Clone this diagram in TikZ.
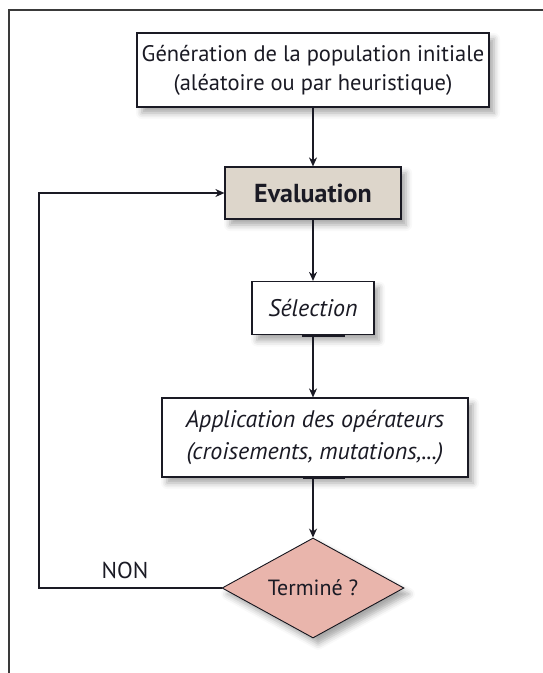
\documentclass[tikz,border=0pt]{standalone}
\usepackage{fontspec}
\setmainfont{PT Sans}
\usetikzlibrary{arrows.meta,shapes.geometric,shadows.blur}

\definecolor{ink}{HTML}{1A1A24}
\definecolor{evalfill}{HTML}{DDD6CB}
\definecolor{testfill}{HTML}{E9B5AC}
\definecolor{framegray}{HTML}{3A3A3A}

\tikzset{
  softshadow/.style={blur shadow={shadow xshift=5pt, shadow yshift=-6pt,
      shadow blur radius=6pt, shadow opacity=35}},
  stepbox/.style={draw=ink, line width=1.2pt, fill=white, rectangle,
      align=center, text=ink, inner sep=0pt, softshadow},
  testbox/.style={draw=ink!80!black, line width=0.9pt, fill=testfill, diamond,
      aspect=1.8, inner sep=0pt, text=ink, softshadow},
  flow/.style={draw=ink, line width=1.3pt, -{Stealth[length=9pt,width=8pt]}},
  seam/.style={draw=ink, line width=2.8pt},
}

\begin{document}
\begin{tikzpicture}[x=1pt, y=-1pt, font=\fontsize{22.5}{29}\selectfont]
  \useasboundingbox (0,0) rectangle (542,673);

  % outer frame
  \draw[framegray, line width=1.2pt] (9,690) -- (9,10) -- (560,10);

  % steps of the loop
  \node[stepbox, minimum width=352pt, minimum height=74pt] (gen) at (313,70)
    {Génération de la population initiale\\(aléatoire ou par heuristique)};
  \node[stepbox, fill=evalfill, minimum width=176pt, minimum height=52pt,
        font=\fontsize{26}{30}\selectfont\bfseries] (eval) at (313,193) {Evaluation};
  \node[stepbox, minimum width=122pt, minimum height=53pt,
        font=\fontsize{24}{28}\selectfont\itshape] (sel) at (313,308) {Sélection};
  \node[stepbox, minimum width=306pt, minimum height=79pt,
        font=\fontsize{24}{32}\selectfont\itshape] (app) at (315,437.5)
    {Application des opérateurs\\(croisements, mutations,...)};
  \node[testbox, minimum width=182pt, minimum height=100pt,
        font=\fontsize{22}{26}\selectfont] (test) at (313,588) {Terminé ?};

  % forward connectors
  \draw[flow] (gen.south) -- (eval.north);
  \draw[flow] (eval.south) -- (sel.north);
  \draw[flow] (sel.south) -- (sel.south |- app.north);
  \draw[flow] (sel.south |- app.south) -- (test.north);

  % loop back when not finished
  \coordinate (back) at (39,588);
  \draw[flow] (test.west) -- (back) |- (eval.west);
  \node[text=ink, font=\fontsize{23}{26}\selectfont] (non) at (125,570) {NON};

  % heavier joins where lines leave the boxes
  \draw[seam] ([xshift=-11pt]sel.south) -- ([xshift=32pt]sel.south);
  \draw[seam] ([xshift=-12pt]app.south) -- ([xshift=30pt]app.south);
  \draw[seam] (back |- eval.west) -- ++(30,0);
\end{tikzpicture}
\end{document}
